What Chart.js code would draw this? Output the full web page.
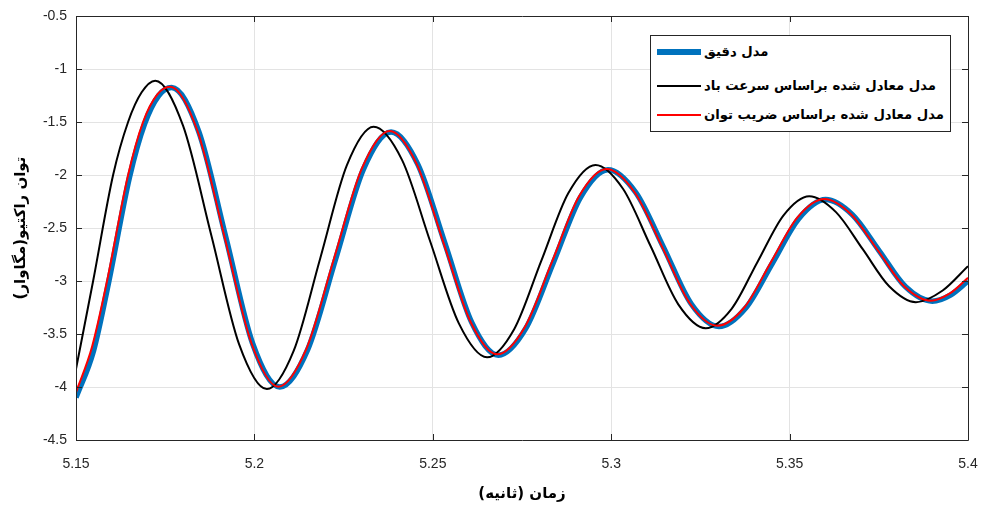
<!DOCTYPE html>
<html>
<head>
<meta charset="utf-8">
<script src="https://cdn.jsdelivr.net/npm/chart.js@4.4.1/dist/chart.umd.min.js"></script>
<style>
  html, body { margin: 0; padding: 0; background: #fff; }
  #wrap { position: relative; width: 984px; height: 507px; }
  #legend { position: absolute; left: 650px; top: 35px; width: 301px; height: 97px;
    border: 1px solid #262626; background: #fff; box-sizing: border-box; }
  .row { position: absolute; left: 0; height: 20px; width: 100%; }
  .sample { position: absolute; left: 6px; width: 44px; }
  .lbl { position: absolute; left: 53px; top: 0; line-height: 20px; white-space: nowrap;
    font-family: "DejaVu Sans", sans-serif; font-weight: bold; font-size: 13.2px; color: #000; direction: rtl; unicode-bidi: embed; }
</style>
</head>
<body>
<div id="wrap">
  <canvas id="c" width="984" height="507"></canvas>
  <div id="legend"></div>
</div>
<script>
// ---- data ----
const xTicks = [5.15, 5.2, 5.25, 5.3, 5.35, 5.4];
const yTicks = [-4.5, -4, -3.5, -3, -2.5, -2, -1.5, -1, -0.5];

const seriesNames = ['مدل دقیق', 'مدل معادل شده براساس سرعت باد', 'مدل معادل شده براساس ضریب توان'];
const xTitle = 'زمان (ثانیه)';
const yTitle = 'توان راکتیو(مگاوار)';

// exact model (blue)
const timeExact = [5.15, 5.1549, 5.1591, 5.1650, 5.1692, 5.1732, 5.1768, 5.1844, 5.1920, 5.1995, 5.2071,
  5.2149, 5.2227, 5.2305, 5.2383, 5.2458, 5.2534, 5.2609, 5.2684, 5.2761, 5.2838, 5.2914, 5.2991,
  5.3069, 5.3147, 5.3224, 5.3302, 5.3377, 5.3452, 5.3526, 5.3601, 5.3676, 5.3751, 5.3825, 5.3900, 5.3952, 5.40];
const powerExact = [-4.10, -3.66, -3.02, -2.02, -1.52, -1.25, -1.175, -1.59, -2.59, -3.59, -4.00,
  -3.65, -2.80, -1.95, -1.595, -1.90, -2.645, -3.39, -3.70, -3.445, -2.825, -2.21, -1.95,
  -2.165, -2.685, -3.215, -3.43, -3.255, -2.83, -2.41, -2.232, -2.375, -2.715, -3.055, -3.19, -3.13, -3.00];

// equivalent model based on wind speed (black)
const timeWind = [5.15, 5.1548, 5.1604, 5.1646, 5.1684, 5.1722, 5.1800, 5.1879, 5.1957, 5.2035,
  5.2110, 5.2185, 5.2259, 5.2334, 5.2414, 5.2493, 5.2573, 5.2652, 5.2728, 5.2804, 5.2880, 5.2956,
  5.3033, 5.3111, 5.3188, 5.3265, 5.3338, 5.3410, 5.3483, 5.3555, 5.3630, 5.3705, 5.3779, 5.3854, 5.3929, 5.40];
const powerWind = [-3.83, -3.00, -2.00, -1.50, -1.22, -1.11, -1.535, -2.565, -3.595, -4.02,
  -3.66, -2.78, -1.91, -1.545, -1.86, -2.63, -3.40, -3.72, -3.455, -2.81, -2.17, -1.905,
  -2.13, -2.675, -3.22, -3.445, -3.26, -2.82, -2.38, -2.20, -2.35, -2.70, -3.05, -3.20, -3.09, -2.86];

// equivalent model based on power coefficient (red)
const timeCp = [5.15, 5.1545, 5.1587, 5.1646, 5.1688, 5.1728, 5.1764, 5.1840, 5.1916, 5.1991, 5.2067,
  5.2145, 5.2223, 5.2301, 5.2379, 5.2454, 5.2530, 5.2605, 5.2680, 5.2757, 5.2834, 5.2910, 5.2987,
  5.3065, 5.3143, 5.3220, 5.3298, 5.3373, 5.3448, 5.3522, 5.3597, 5.3672, 5.3747, 5.3821, 5.3896, 5.3948, 5.40];
const powerCp = [-4.05, -3.62, -3.00, -2.00, -1.50, -1.24, -1.167, -1.58, -2.58, -3.58, -3.997,
  -3.645, -2.79, -1.94, -1.585, -1.89, -2.64, -3.38, -3.692, -3.44, -2.82, -2.20, -1.943,
  -2.16, -2.68, -3.21, -3.422, -3.25, -2.82, -2.40, -2.226, -2.37, -2.71, -3.05, -3.186, -3.12, -2.97];

const colors = ['#0072BD', '#000000', '#FF0000'];
const widths = [5.5, 2, 2];

function pts(t, v) { return t.map((x, i) => ({ x: x, y: v[i] })); }

const frame = {
  id: 'frame',
  afterDraw(chart) {
    const { ctx, chartArea: a, scales } = chart;
    ctx.save();
    ctx.strokeStyle = '#262626';
    ctx.lineWidth = 1;
    ctx.beginPath();
    ctx.rect(Math.round(a.left) + 0.5, Math.round(a.top) + 0.5, Math.round(a.right - a.left), Math.round(a.bottom - a.top));
    const L = 6;
    xTicks.forEach(v => {
      const p = Math.round(scales.x.getPixelForValue(v)) + 0.5;
      ctx.moveTo(p, a.bottom); ctx.lineTo(p, a.bottom - L);
      ctx.moveTo(p, a.top); ctx.lineTo(p, a.top + L);
    });
    yTicks.forEach(v => {
      const p = Math.round(scales.y.getPixelForValue(v)) + 0.5;
      ctx.moveTo(a.left, p); ctx.lineTo(a.left + L, p);
      ctx.moveTo(a.right, p); ctx.lineTo(a.right - L, p);
    });
    ctx.stroke();
    ctx.restore();
  }
};

const tickFont = { family: '"Liberation Sans", Arial, sans-serif', size: 14 };
const titleFont = { family: '"DejaVu Sans", sans-serif', size: 15, weight: 'bold' };

new Chart(document.getElementById('c'), {
  type: 'line',
  data: {
    datasets: [
      { label: seriesNames[0], data: pts(timeExact, powerExact), borderColor: colors[0], borderWidth: widths[0], order: 3 },
      { label: seriesNames[1], data: pts(timeWind, powerWind), borderColor: colors[1], borderWidth: widths[1], order: 2 },
      { label: seriesNames[2], data: pts(timeCp, powerCp), borderColor: colors[2], borderWidth: widths[2], order: 1 }
    ]
  },
  options: {
    responsive: false,
    animation: false,
    events: [],
    elements: { point: { radius: 0 }, line: { cubicInterpolationMode: 'monotone', fill: false } },
    layout: { padding: { left: 0, top: 16, right: 16, bottom: 0 } },
    plugins: { legend: { display: false }, tooltip: { enabled: false } },
    scales: {
      x: {
        type: 'linear', min: 5.15, max: 5.4,
        afterBuildTicks: s => { s.ticks = xTicks.map(v => ({ value: v })); },
        afterFit: s => { s.height = 67; s.paddingLeft = 0; s.paddingRight = 0; },
        grid: { color: '#e3e3e3', drawTicks: false },
        border: { display: false },
        ticks: { font: tickFont, color: '#262626', padding: 16, maxRotation: 0,
          callback: v => String(Math.round(v * 100) / 100) },
        title: { display: true, text: xTitle, font: titleFont, color: '#000', padding: { top: 0, bottom: 4 } }
      },
      y: {
        type: 'linear', min: -4.5, max: -0.5,
        afterBuildTicks: s => { s.ticks = yTicks.map(v => ({ value: v })); },
        afterFit: s => { s.width = 76; s.paddingTop = 0; s.paddingBottom = 0; },
        grid: { color: '#e3e3e3', drawTicks: false },
        border: { display: false },
        ticks: { font: tickFont, color: '#262626', padding: 9,
          callback: v => String(Math.round(v * 10) / 10) },
        title: { display: true, text: yTitle, font: titleFont, color: '#000', padding: { top: 12, bottom: 0 } }
      }
    }
  },
  plugins: [frame]
});

// legend
const lg = document.getElementById('legend');
const rowTops = [6, 40, 69];
seriesNames.forEach((n, i) => {
  const r = document.createElement('div');
  r.className = 'row';
  r.style.top = rowTops[i] + 'px';
  const s = document.createElement('div');
  s.className = 'sample';
  s.style.height = (i === 0 ? 6 : 2) + 'px';
  s.style.top = (10 - (i === 0 ? 3 : 1)) + 'px';
  s.style.background = colors[i];
  const t = document.createElement('span');
  t.className = 'lbl';
  t.textContent = n;
  r.appendChild(s); r.appendChild(t);
  lg.appendChild(r);
});
</script>
</body>
</html>
